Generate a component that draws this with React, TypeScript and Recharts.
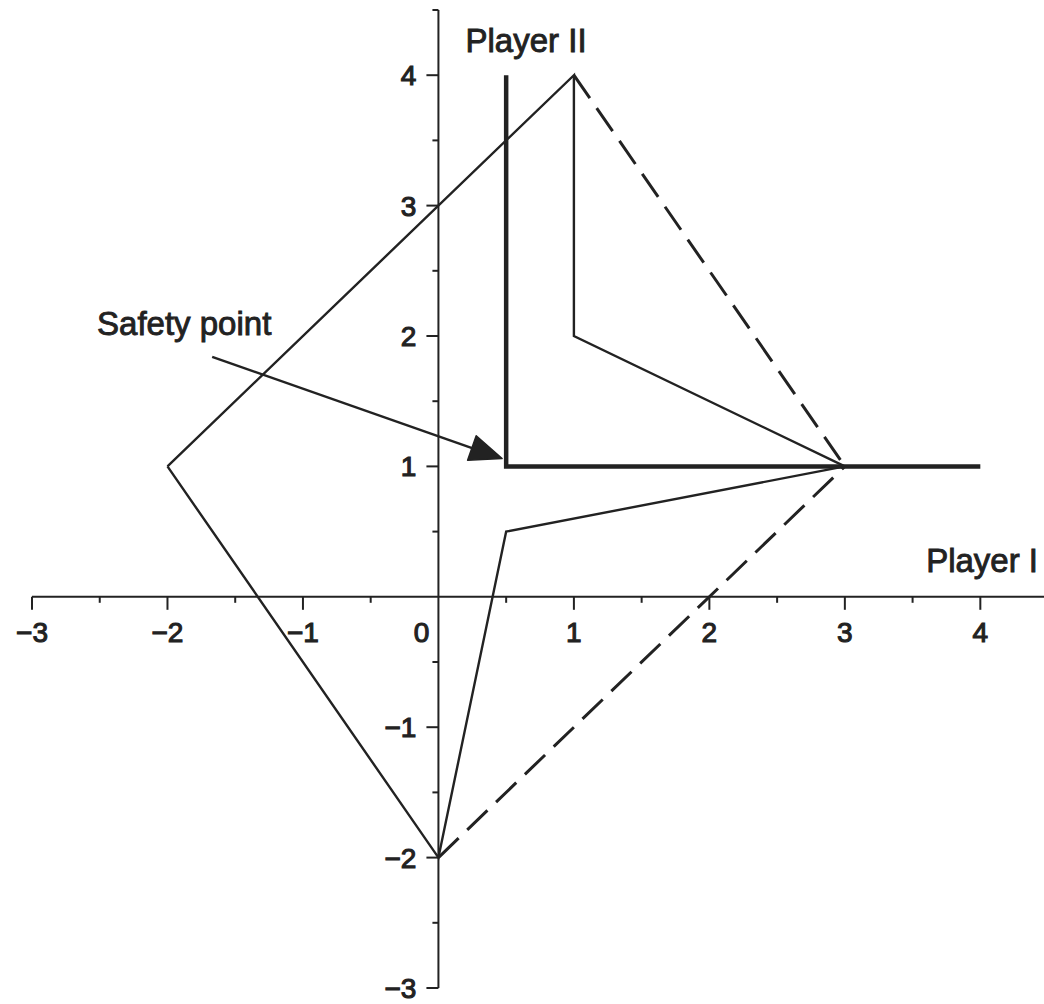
import React from 'react';
import { ComposedChart, Line, Scatter, XAxis, YAxis, ReferenceLine } from 'recharts';

// Axis ticks (major ticks carry labels, minor ticks sit at the halves)
const xTickValues = [-3, -2, -1, 0, 1, 2, 3, 4];
const xMinorValues = [-2.5, -1.5, -0.5, 0.5, 1.5, 2.5, 3.5];
const yTickValues = [-3, -2, -1, 1, 2, 3, 4];
const yMinorValues = [-2.5, -1.5, -0.5, 0.5, 1.5, 2.5, 3.5];

// Payoff region boundary
const upperBoundary = [
  { x: -2, y: 1 },
  { x: 1, y: 4 },
  { x: 1, y: 2 },
  { x: 3, y: 1 },
];
const lowerBoundary = [
  { x: -2, y: 1 },
  { x: 0, y: -2 },
  { x: 0.5, y: 0.5 },
  { x: 3, y: 1 },
];

// Cooperative (dashed) edges
const dashedUpper = [
  { x: 1, y: 4 },
  { x: 3, y: 1 },
];
const dashedLower = [
  { x: 0, y: -2 },
  { x: 3, y: 1 },
];

// Safety levels of the two players
const safetyLines = [
  { x: 0.5, y: 4 },
  { x: 0.5, y: 1 },
  { x: 4, y: 1 },
];

// Arrow pointing at the safety point
const arrowStart = { x: -1.67, y: 1.84 };
const arrowTip = { x: 0.47, y: 1.06 };

// Text annotations (anchored at left baseline)
const annotations = [
  { x: 0.2, y: 4.18, text: 'Player II' },
  { x: 3.6, y: 0.19, text: 'Player I' },
  { x: -2.52, y: 2.01, text: 'Safety point' },
];

const X_DOMAIN: [number, number] = [-3, 4.47];
const Y_DOMAIN: [number, number] = [-3, 4.5];

const FONT = '"Liberation Sans", Arial, Helvetica, sans-serif';
const INK = '#222';

const fmt = (v: number) => (v < 0 ? `\u2212${Math.abs(v)}` : `${v}`);
const xTickData = xTickValues.map((v) => ({ x: v, y: 0, label: fmt(v) }));
const xMinorData = xMinorValues.map((v) => ({ x: v, y: 0 }));
const yTickData = yTickValues.map((v) => ({ x: 0, y: v, label: fmt(v) }));
const yMinorData = [...yMinorValues, Y_DOMAIN[1]].map((v) => ({ x: 0, y: v }));

const XTick = (props: any) => {
  const { cx, cy, payload } = props;
  const isZero = payload.x === 0;
  return (
    <g>
      {!isZero && <line x1={cx} y1={cy} x2={cx} y2={cy + 13} stroke={INK} strokeWidth={2} />}
      <text
        x={isZero ? cx - 17 : cx}
        y={cy + 45}
        textAnchor="middle"
        fontFamily={FONT}
        fontSize={28}
        fill={INK}
        stroke={INK}
        strokeWidth={1.1}
      >
        {payload.label}
      </text>
    </g>
  );
};

const XMinor = (props: any) => {
  const { cx, cy } = props;
  return <line x1={cx} y1={cy} x2={cx} y2={cy + 6} stroke={INK} strokeWidth={2} />;
};

const YTick = (props: any) => {
  const { cx, cy, payload } = props;
  return (
    <g>
      <line x1={cx - 12} y1={cy} x2={cx} y2={cy} stroke={INK} strokeWidth={2} />
      <text
        x={cx - 22}
        y={cy}
        dy="0.36em"
        textAnchor="end"
        fontFamily={FONT}
        fontSize={28}
        fill={INK}
        stroke={INK}
        strokeWidth={1.1}
      >
        {payload.label}
      </text>
    </g>
  );
};

const YMinor = (props: any) => {
  const { cx, cy } = props;
  return <line x1={cx - 6} y1={cy} x2={cx} y2={cy} stroke={INK} strokeWidth={2} />;
};

const Annotation = (props: any) => {
  const { cx, cy, payload } = props;
  return (
    <text x={cx} y={cy} fontFamily={FONT} fontSize={33} fill={INK} stroke={INK} strokeWidth={0.9}>
      {payload.text}
    </text>
  );
};

const ArrowShape = (props: any) => {
  const { x1, y1, x2, y2 } = props;
  const dx = x2 - x1;
  const dy = y2 - y1;
  const len = Math.sqrt(dx * dx + dy * dy) || 1;
  const ux = dx / len;
  const uy = dy / len;
  const headLen = 32;
  const headHalf = 13;
  const bx = x2 - ux * headLen;
  const by = y2 - uy * headLen;
  const p1 = `${x2},${y2}`;
  const p2 = `${bx - uy * headHalf},${by + ux * headHalf}`;
  const p3 = `${bx + uy * headHalf},${by - ux * headHalf}`;
  return (
    <g>
      <line x1={x1} y1={y1} x2={bx + ux * 4} y2={by + uy * 4} stroke={INK} strokeWidth={2.5} />
      <polygon points={`${p1} ${p2} ${p3}`} fill={INK} stroke={INK} strokeWidth={1.5} strokeLinejoin="round" />
    </g>
  );
};

export default function App() {
  return (
    <div style={{ position: 'absolute', left: 0, top: 0, background: '#fff' }}>
      <ComposedChart width={1044} height={1004} margin={{ top: 10, right: 0, bottom: 16, left: 32 }}>
        <XAxis type="number" dataKey="x" domain={X_DOMAIN} hide />
        <YAxis type="number" dataKey="y" domain={Y_DOMAIN} hide />

        {/* axes through the origin */}
        <ReferenceLine
          segment={[{ x: X_DOMAIN[0], y: 0 }, { x: X_DOMAIN[1], y: 0 }]}
          stroke={INK}
          strokeWidth={2}
          ifOverflow="visible"
        />
        <ReferenceLine
          segment={[{ x: 0, y: Y_DOMAIN[0] }, { x: 0, y: Y_DOMAIN[1] }]}
          stroke={INK}
          strokeWidth={2}
          ifOverflow="visible"
        />

        <Scatter data={xMinorData} shape={XMinor} isAnimationActive={false} />
        <Scatter data={xTickData} shape={XTick} isAnimationActive={false} />
        <Scatter data={yMinorData} shape={YMinor} isAnimationActive={false} />
        <Scatter data={yTickData} shape={YTick} isAnimationActive={false} />

        <Line data={upperBoundary} dataKey="y" type="linear" stroke={INK} strokeWidth={2.4} dot={false} isAnimationActive={false} />
        <Line data={lowerBoundary} dataKey="y" type="linear" stroke={INK} strokeWidth={2.4} dot={false} isAnimationActive={false} />
        <Line
          data={dashedUpper}
          dataKey="y"
          type="linear"
          stroke={INK}
          strokeWidth={3}
          strokeDasharray="28 12"
          dot={false}
          isAnimationActive={false}
        />
        <Line
          data={dashedLower}
          dataKey="y"
          type="linear"
          stroke={INK}
          strokeWidth={3}
          strokeDasharray="28 12"
          dot={false}
          isAnimationActive={false}
        />
        <Line
          data={safetyLines}
          dataKey="y"
          type="linear"
          stroke={INK}
          strokeWidth={4.5}
          dot={false}
          isAnimationActive={false}
        />

        <ReferenceLine segment={[arrowStart, arrowTip]} shape={ArrowShape} ifOverflow="visible" />

        <Scatter data={annotations} shape={Annotation} isAnimationActive={false} />
      </ComposedChart>
    </div>
  );
}
